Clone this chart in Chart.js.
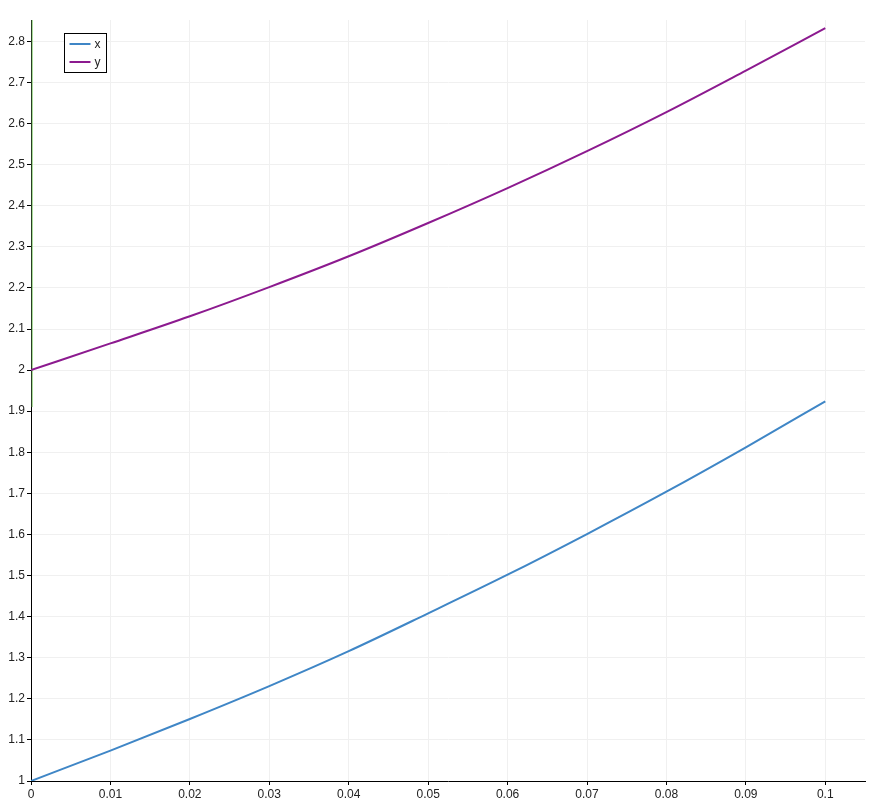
<!DOCTYPE html>
<html>
<head>
<meta charset="utf-8">
<script src="https://cdn.jsdelivr.net/npm/chart.js@4/dist/chart.umd.min.js"></script>
<style>
html,body{margin:0;padding:0;background:#fff;}
#wrap{width:886px;height:805px;}
</style>
</head>
<body>
<div id="wrap"><canvas id="c" width="886" height="805"></canvas></div>
<script>
// Data
const tValues = [0, 0.01, 0.02, 0.03, 0.04, 0.05, 0.06, 0.07, 0.08, 0.09, 0.1];
const xSeries = [1.0, 1.074, 1.151, 1.231, 1.316, 1.408, 1.502, 1.601, 1.704, 1.812, 1.924];
const ySeries = [2.0, 2.065, 2.131, 2.202, 2.277, 2.358, 2.443, 2.533, 2.628, 2.729, 2.832];
const greenX = [0.00015, 0.00015];
const greenY = [1.91, 2.852];
const seriesNames = ["x", "y"];
const xTickValues = [0, 0.01, 0.02, 0.03, 0.04, 0.05, 0.06, 0.07, 0.08, 0.09, 0.1];
const xTickLabels = ["0", "0.01", "0.02", "0.03", "0.04", "0.05", "0.06", "0.07", "0.08", "0.09", "0.1"];
const yTickValues = [1, 1.1, 1.2, 1.3, 1.4, 1.5, 1.6, 1.7, 1.8, 1.9, 2, 2.1, 2.2, 2.3, 2.4, 2.5, 2.6, 2.7, 2.8];
const yTickLabels = ["1", "1.1", "1.2", "1.3", "1.4", "1.5", "1.6", "1.7", "1.8", "1.9", "2", "2.1", "2.2", "2.3", "2.4", "2.5", "2.6", "2.7", "2.8"];

const FONT = "'Liberation Sans', 'DejaVu Sans', sans-serif";
const toPts = (xs, ys) => xs.map((v, i) => ({x: v, y: ys[i]}));

const legendPlugin = {
  id: 'innerLegend',
  afterDraw(chart) {
    const ctx = chart.ctx;
    const items = chart.data.datasets.filter(d => d.inLegend);
    const left = 64.5, top = 33.5, w = 42, rowH = 18;
    const h = rowH * items.length + 3;
    ctx.save();
    ctx.fillStyle = '#fff';
    ctx.fillRect(left, top, w, h);
    ctx.strokeStyle = '#000';
    ctx.lineWidth = 1;
    ctx.strokeRect(left, top, w, h);
    ctx.font = '12px ' + FONT;
    ctx.textBaseline = 'middle';
    items.forEach((d, i) => {
      const yy = top + 10.5 + i * rowH;
      ctx.strokeStyle = d.borderColor;
      ctx.lineWidth = 2;
      ctx.beginPath();
      ctx.moveTo(left + 5, yy);
      ctx.lineTo(left + 26, yy);
      ctx.stroke();
      ctx.fillStyle = '#222';
      ctx.fillText(d.label, left + 30, yy + 0.5);
    });
    ctx.restore();
  }
};

new Chart(document.getElementById('c'), {
  type: 'line',
  data: {
    datasets: [
      {label: seriesNames[0], data: toPts(tValues, xSeries), borderColor: '#3f86c6', borderWidth: 2, pointRadius: 0, cubicInterpolationMode: 'monotone', inLegend: true},
      {label: seriesNames[1], data: toPts(tValues, ySeries), borderColor: '#8c1a8f', borderWidth: 2, pointRadius: 0, cubicInterpolationMode: 'monotone', inLegend: true},
      {label: 'z', data: toPts(greenX, greenY), borderColor: '#86cc70', borderWidth: 1, pointRadius: 0, clip: false, inLegend: false}
    ]
  },
  options: {
    responsive: false,
    animation: false,
    layout: {padding: {top: 20, right: 21, left: 0, bottom: 0}},
    plugins: {legend: {display: false}, tooltip: {enabled: false}},
    scales: {
      x: {
        type: 'linear', min: 0, max: 0.105,
        afterBuildTicks: s => { s.ticks = xTickValues.map(v => ({value: v})); },
        afterFit: s => { s.height = 24; },
        grid: {color: '#f0f0f0', lineWidth: 1, tickColor: '#000', tickLength: 4, drawTicks: true},
        border: {display: true, color: '#000', width: 1},
        ticks: {
          autoSkip: false, maxRotation: 0, padding: 2, color: '#222',
          font: {family: FONT, size: 12},
          callback: (v) => { const i = xTickValues.findIndex(t => Math.abs(t - v) < 1e-9); return i >= 0 ? xTickLabels[i] : ''; }
        }
      },
      y: {
        type: 'linear', min: 1, max: 2.852,
        afterBuildTicks: s => { s.ticks = yTickValues.map(v => ({value: v})); },
        afterFit: s => { s.width = 31; },
        grid: {color: '#f0f0f0', lineWidth: 1, tickColor: '#000', tickLength: 4, drawTicks: true},
        border: {display: true, color: '#000', width: 1},
        ticks: {
          autoSkip: false, padding: 2, color: '#222',
          font: {family: FONT, size: 12},
          callback: (v) => { const i = yTickValues.findIndex(t => Math.abs(t - v) < 1e-9); return i >= 0 ? yTickLabels[i] : ''; }
        }
      }
    }
  },
  plugins: [legendPlugin]
});
</script>
</body>
</html>
